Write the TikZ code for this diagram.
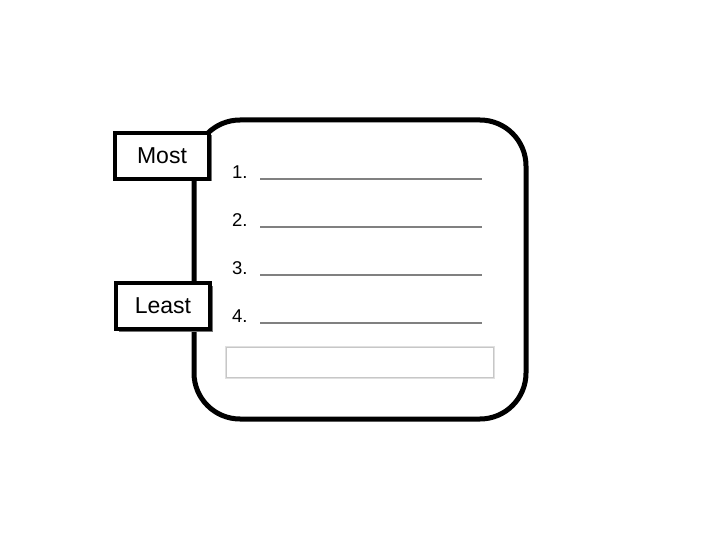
\documentclass[tikz,border=0pt]{standalone}
\usepackage{fontspec}
\setmainfont{Liberation Sans}
\usetikzlibrary{shadows}
\begin{document}
\begin{tikzpicture}[x=1pt,y=-1pt,
  labelbox/.style={draw=black,line width=4pt,fill=white,minimum width=94pt,minimum height=46pt,inner sep=0pt,font=\fontsize{23}{26}\selectfont,
    general shadow={shadow xshift=2.5pt,shadow yshift=-2.5pt,fill=black!55}},
  num/.style={font=\fontsize{18.5}{20}\selectfont,anchor=west,inner sep=0pt},
  blank/.style={draw=black!50,line width=1.6pt}]
\useasboundingbox (0,0) rectangle (720,540);
\draw[line width=5pt,rounded corners=46pt,fill=white] (194,120) rectangle (526,419);
\node[labelbox] (most) at (162,156) {Most};
\node[labelbox] (least) at (163,306) {Least};
\foreach \i/\y in {1/172,2/220,3/268,4/316}{
  \node[num] (n\i) at (232,\y) {\i.};
  \coordinate (a\i) at (260,\y+7);
  \coordinate (b\i) at (482,\y+7);
  \draw[blank] (a\i) -- (b\i);
}
\draw[draw=black!12,line width=3pt] (226,347) rectangle (493,377);
\draw[draw=black!22,line width=1pt,fill=white] (226,347) rectangle (493,377);
\end{tikzpicture}
\end{document}
